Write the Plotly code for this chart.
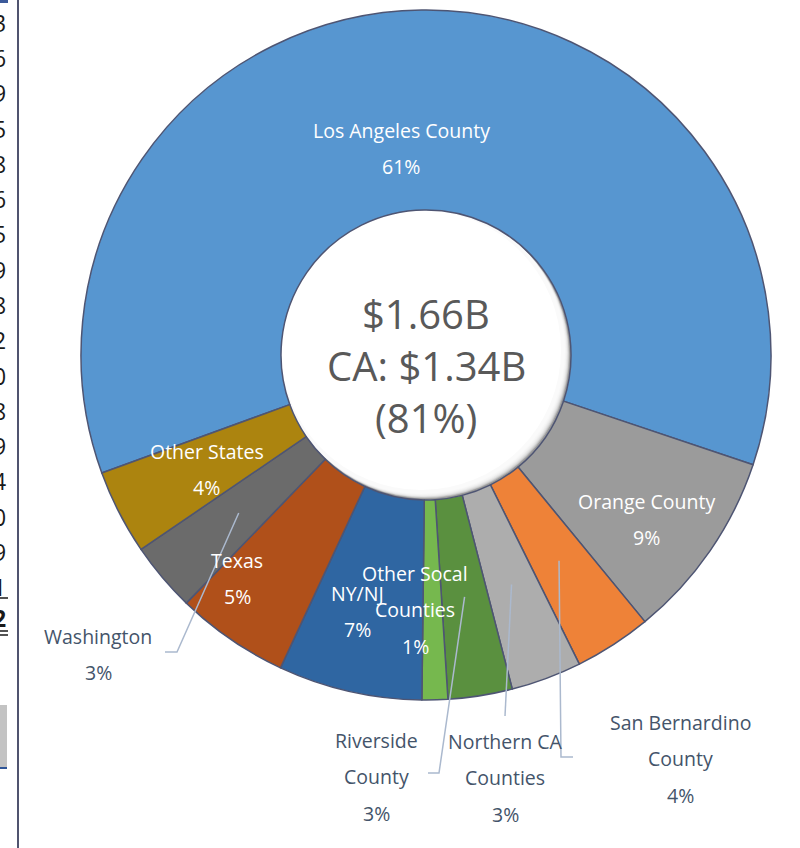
import math
import plotly.graph_objects as go

W, H = 800, 848

# ---------------- data ----------------
labels = ["Los Angeles County", "Orange County", "San Bernardino County",
          "Northern CA Counties", "Riverside County", "Other Socal Counties",
          "NY/NJ", "Texas", "Washington", "Other States"]
values_musd = [1009, 148, 60, 55, 50, 20, 112, 88, 54, 66]
is_california = [True, True, True, True, True, True, False, False, False, False]
display_lines = [["Los Angeles County"], ["Orange County"], ["San Bernardino", "County"],
                 ["Northern CA", "Counties"], ["Riverside", "County"], ["Other Socal", "Counties"],
                 ["NY/NJ"], ["Texas"], ["Washington"], ["Other States"]]
table_digits = ["3", "6", "9", "5", "8", "6", "5", "9", "8", "2", "0", "8", "9", "4", "0", "9", "1", "2"]

# ---------------- styles ----------------
colors = ["#5796D0", "#9B9B9B", "#EE8238", "#ADADAD", "#5A903F", "#76B84E",
          "#2F66A2", "#B0501A", "#6B6B6B", "#AC840F"]
CX, CY, R_OUT, R_IN = 426, 355, 345, 145
START_DEG = 250  # clockwise from 12 o'clock

# label layout: (pixel center x, pixel center y of first line, inside?, leader path points)
label_layout = [
    (401, 130, True, None),
    (646, 501, True, None),
    (680, 722, False, [(561, 757), (573, 757)]),
    (505, 741, False, [(505, 716)]),
    (376, 740, False, [(439, 773), (428, 773)]),
    (415, 573, True, None),
    (357, 593, True, None),
    (237, 560, True, None),
    (98, 636, False, [(177, 652), (165, 652)]),
    (207, 451, True, None),
]
LINE_GAP = 36.5


def px(x):
    return x / W


def py(y):
    return 1 - y / H


def circle(cx, cy, r, fill, opacity=1.0, layer="below"):
    return dict(type="circle", xref="paper", yref="paper",
                x0=px(cx - r), x1=px(cx + r), y0=py(cy + r), y1=py(cy - r),
                fillcolor=fill, opacity=opacity, line=dict(width=0), layer=layer)


total = sum(values_musd)
ca_total = sum(v for v, c in zip(values_musd, is_california) if c)
pcts = [round(v / total * 100) for v in values_musd]

fig = go.Figure()
fig.add_trace(go.Pie(
    labels=labels,
    values=values_musd,
    sort=False,
    direction="clockwise",
    rotation=START_DEG,
    hole=R_IN / R_OUT,
    textinfo="none",
    hoverinfo="label+percent",
    marker=dict(colors=colors, line=dict(color="#4E5573", width=1.5)),
    domain=dict(x=[px(CX - R_OUT), px(CX + R_OUT)], y=[py(CY + R_OUT), py(CY - R_OUT)]),
    showlegend=False,
))

annotations = []
shapes = []

# soft shadow on the lower-right rim of the hole
shapes.append(circle(CX, CY, R_IN, "#9A9A9A"))
for d in range(1, 8):
    shapes.append(circle(CX - d * 0.7, CY - d * 0.7, R_IN - 1, "#FFFFFF", 0.35))
shapes.append(circle(CX - 5, CY - 5, R_IN - 5, "#FFFFFF"))

cum = 0.0
for i, v in enumerate(values_musd):
    mid_frac = (cum + v / 2) / total
    cum += v
    lx, ly, inside, leader = label_layout[i]
    lines = display_lines[i] + [f"{pcts[i]}%"]
    col = "#FFFFFF" if inside else "#44546A"
    for k, t in enumerate(lines):
        annotations.append(dict(
            x=px(lx), y=py(ly + k * LINE_GAP), xref="paper", yref="paper",
            text=t, showarrow=False, xanchor="center", yanchor="middle",
            font=dict(family="Open Sans", size=19.5, color=col)))
    if leader:
        ang = math.radians(START_DEG + mid_frac * 360)
        rm = (R_IN + R_OUT) / 2
        tx, ty = CX + rm * math.sin(ang), CY - rm * math.cos(ang)
        pts = [(tx, ty)] + leader
        path = "M " + " L ".join(f"{px(a):.5f},{py(b):.5f}" for a, b in pts)
        shapes.append(dict(type="path", path=path, xref="paper", yref="paper",
                           line=dict(color="#ABB9CE", width=1.5)))

center_lines = [f"${total/1000:.2f}B", f"CA: ${ca_total/1000:.2f}B", f"({round(ca_total/total*100)}%)"]
for k, t in enumerate(center_lines):
    annotations.append(dict(
        x=px(CX), y=py(314 + k * 51.5), xref="paper", yref="paper", text=t,
        showarrow=False, xanchor="center", yanchor="middle",
        font=dict(family="Open Sans", size=40, color="#595959")))

# cropped spreadsheet column at the left edge
for k, d in enumerate(table_digits):
    last = k == len(table_digits) - 1
    annotations.append(dict(
        x=px(8), y=py(23 + k * 35.25 - (4 if last else 0)), xref="paper", yref="paper",
        text=f"<b>{d}</b>" if last else d,
        showarrow=False, xanchor="right", yanchor="middle",
        font=dict(family="Open Sans", size=23, color="#1A1A1A")))

shapes += [
    dict(type="rect", x0=0, x1=px(8), y0=py(3), y1=py(0), xref="paper", yref="paper",
         fillcolor="#3C5A9A", line=dict(width=0)),
    dict(type="line", x0=0, x1=px(8), y0=py(598), y1=py(598), xref="paper", yref="paper",
         line=dict(color="#1A1A1A", width=1.5)),
    dict(type="line", x0=0, x1=px(8), y0=py(631), y1=py(631), xref="paper", yref="paper",
         line=dict(color="#1A1A1A", width=1.5)),
    dict(type="line", x0=0, x1=px(8), y0=py(635), y1=py(635), xref="paper", yref="paper",
         line=dict(color="#1A1A1A", width=1.5)),
    dict(type="rect", x0=0, x1=px(7), y0=py(767), y1=py(705), xref="paper", yref="paper",
         fillcolor="#C3C3C3", line=dict(width=0)),
    dict(type="line", x0=0, x1=px(7), y0=py(768), y1=py(768), xref="paper", yref="paper",
         line=dict(color="#2F5597", width=2)),
    dict(type="line", x0=px(18), x1=px(18), y0=0, y1=1, xref="paper", yref="paper",
         line=dict(color="#50546F", width=2)),
]

fig.update_layout(
    width=W, height=H,
    margin=dict(l=0, r=0, t=0, b=0),
    paper_bgcolor="#FFFFFF", plot_bgcolor="#FFFFFF",
    annotations=annotations, shapes=shapes,
)

fig.write_html("out.html", config={"displayModeBar": False},
               post_script="document.body.style.margin='0';")
